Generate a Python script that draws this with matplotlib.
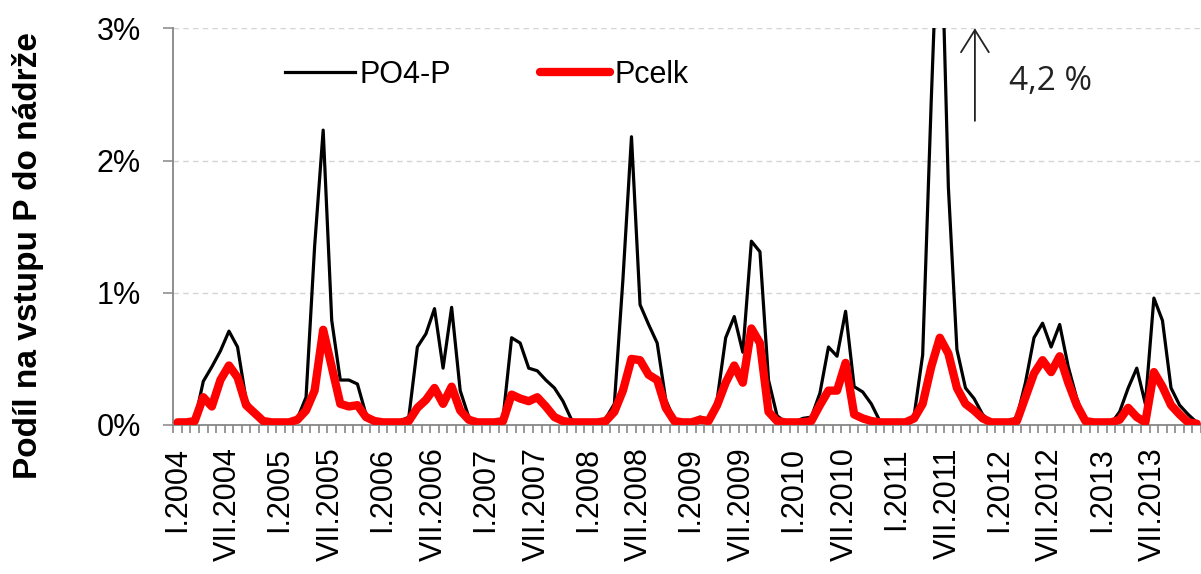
import numpy as np
import matplotlib
matplotlib.use("Agg")
import matplotlib.pyplot as plt

plt.rcParams['font.family'] = ['Liberation Sans', 'DejaVu Sans']

# monthly share of P input into the reservoir (%), I.2004 .. XII.2013
po4_p = [0.02, 0.02, 0.03, 0.33, 0.44, 0.56, 0.71, 0.59, 0.19, 0.09,
         0.03, 0.02, 0.02, 0.02, 0.05, 0.21, 1.35, 2.23, 0.79, 0.34,
         0.34, 0.31, 0.08, 0.04, 0.03, 0.03, 0.03, 0.06, 0.59, 0.69,
         0.88, 0.43, 0.89, 0.26, 0.06, 0.02, 0.02, 0.02, 0.05, 0.66,
         0.62, 0.43, 0.41, 0.34, 0.28, 0.18, 0.04, 0.02, 0.02, 0.02,
         0.05, 0.16, 1.10, 2.18, 0.91, 0.76, 0.62, 0.19, 0.04, 0.02,
         0.03, 0.06, 0.04, 0.19, 0.66, 0.82, 0.55, 1.39, 1.31, 0.34,
         0.07, 0.02, 0.02, 0.05, 0.06, 0.24, 0.59, 0.52, 0.86, 0.29,
         0.25, 0.16, 0.03, 0.01, 0.01, 0.01, 0.07, 0.53, 2.45, 4.20,
         1.80, 0.57, 0.28, 0.20, 0.08, 0.02, 0.02, 0.02, 0.06, 0.32,
         0.66, 0.77, 0.59, 0.76, 0.44, 0.20, 0.03, 0.01, 0.01, 0.01,
         0.10, 0.28, 0.43, 0.16, 0.96, 0.79, 0.28, 0.15, 0.08, 0.02]

p_celk = [0.02, 0.02, 0.03, 0.21, 0.14, 0.34, 0.45, 0.36, 0.15, 0.09,
          0.03, 0.02, 0.02, 0.02, 0.04, 0.11, 0.26, 0.72, 0.44, 0.16,
          0.14, 0.15, 0.06, 0.03, 0.02, 0.02, 0.02, 0.03, 0.13, 0.19,
          0.28, 0.16, 0.29, 0.11, 0.04, 0.02, 0.02, 0.02, 0.03, 0.23,
          0.20, 0.18, 0.21, 0.14, 0.06, 0.03, 0.02, 0.02, 0.02, 0.02,
          0.03, 0.10, 0.26, 0.50, 0.49, 0.38, 0.34, 0.13, 0.03, 0.02,
          0.02, 0.04, 0.03, 0.15, 0.32, 0.45, 0.32, 0.73, 0.62, 0.10,
          0.03, 0.02, 0.02, 0.02, 0.03, 0.15, 0.26, 0.26, 0.47, 0.08,
          0.05, 0.03, 0.02, 0.02, 0.02, 0.02, 0.05, 0.16, 0.44, 0.66,
          0.54, 0.28, 0.16, 0.11, 0.05, 0.02, 0.02, 0.02, 0.03, 0.21,
          0.39, 0.49, 0.40, 0.52, 0.32, 0.15, 0.03, 0.02, 0.02, 0.02,
          0.04, 0.13, 0.06, 0.02, 0.40, 0.29, 0.15, 0.08, 0.02, 0.01]

years = list(range(2004, 2014))
tick_labels = []
for y in years:
    tick_labels += ["I.%d" % y, "VII.%d" % y]

x = np.arange(len(po4_p))

fig = plt.figure(figsize=(12.01, 5.74), dpi=100)
W, H = 1201, 574
ax = fig.add_axes([173.3 / W, (H - 425) / H, (W - 173.3) / W, (425 - 28.3) / H])

ax.plot(x, po4_p, color="black", lw=2.3, label="PO4-P", zorder=3)
ax.plot(x, p_celk, color="#ff0000", lw=6, label="Pcelk",
        solid_joinstyle="round", solid_capstyle="round", zorder=4)

ax.set_ylim(0, 3)
ax.set_xlim(-0.5, -0.5 + (W - 173.3) / 8.651)

ax.set_yticks([0, 1, 2, 3])
ax.set_yticklabels(["0%", "1%", "2%", "3%"])
ax.yaxis.grid(True, color="#d4d4d4", ls=(0, (4, 3)), lw=1)
ax.set_axisbelow(True)

ax.set_xticks(np.arange(0, 120, 6) - 0.1)
ax.set_xticklabels(tick_labels, rotation=90, va="top", ha="center")
ax.set_xticks(np.arange(-0.5, 120, 1), minor=True)

ax.tick_params(axis="x", which="major", length=0, pad=16, labelsize=22)
ax.tick_params(axis="x", which="minor", length=6, width=1.4, color="#999999")
ax.tick_params(axis="y", length=7.5, width=1.1, color="#868686", pad=16, labelsize=22)

for s in ["top", "right"]:
    ax.spines[s].set_visible(False)
for s in ["left", "bottom"]:
    ax.spines[s].set_color("#868686")
    ax.spines[s].set_linewidth(1.3)

fig.text(28 / W, 1 - 256 / H, "Podíl na vstupu P do nádrže", rotation=90,
         ha="center", va="center", fontsize=24, fontweight="bold")

leg = fig.legend(loc="center left", bbox_to_anchor=(285 / W, 1 - 75 / H),
                 ncol=2, frameon=False, fontsize=22, handlelength=2.3,
                 handletextpad=0.15, columnspacing=2.9, borderpad=0,
                 borderaxespad=0)

ax.annotate("", xy=(93.1, 3.0), xytext=(93.1, 2.3),
            arrowprops=dict(arrowstyle="->, head_length=0.8, head_width=0.5",
                            color="#222222", lw=1.3, mutation_scale=20,
                            shrinkA=0, shrinkB=0),
            annotation_clip=False)
ax.text(97.1, 2.6, "4,2 %", family="Open Sans", fontsize=24,
        color="#222222", ha="left", va="center")

fig.savefig("out.png", dpi=100)
